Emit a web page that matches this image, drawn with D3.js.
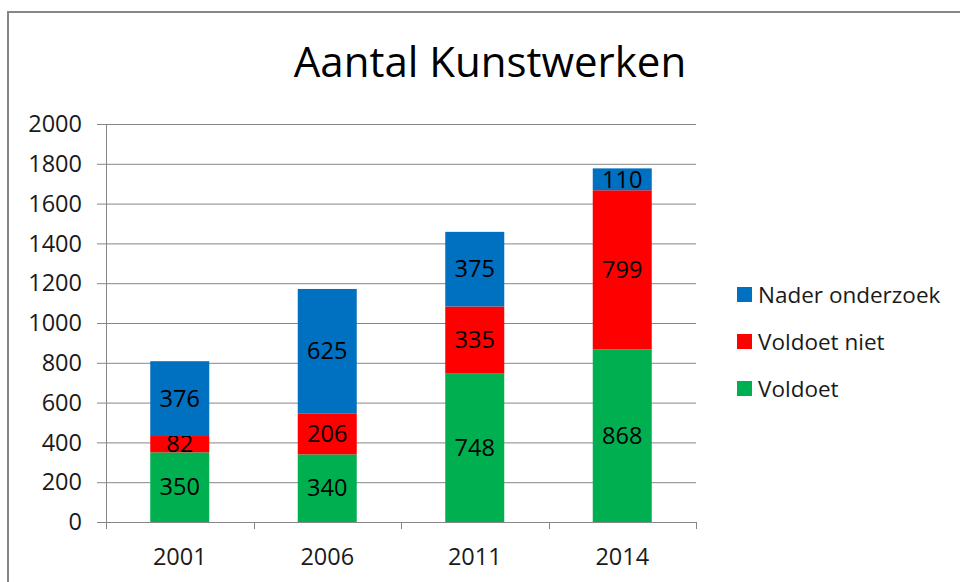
<!DOCTYPE html>
<html>
<head>
<meta charset="utf-8">
<script src="https://cdn.jsdelivr.net/npm/d3@7"></script>
<style>
  body { margin: 0; background: #fff; }
  text { font-family: "Open Sans", sans-serif; fill: #000; }
</style>
</head>
<body>
<svg class="chart"></svg>
<script>
// values
var years = ['2001', '2006', '2011', '2014'];
var voldoet = [350, 340, 748, 868];
var voldoetNiet = [82, 206, 335, 799];
var naderOnderzoek = [376, 625, 375, 110];
var seriesNames = ['Voldoet', 'Voldoet niet', 'Nader onderzoek'];
var seriesColors = ['#00B050', '#FF0000', '#0070C0'];
var yTicks = [0, 200, 400, 600, 800, 1000, 1200, 1400, 1600, 1800, 2000];

var width = 960, height = 582;

var svg = d3.select('.chart')
    .attr('width', width)
    .attr('height', height);

// chart border
svg.append('rect')
    .attr('x', 8).attr('y', 12)
    .attr('width', 970).attr('height', 600)
    .attr('fill', 'none')
    .attr('stroke', '#868686')
    .attr('stroke-width', 2);

svg.append('text')
    .attr('x', 490).attr('y', 77)
    .attr('text-anchor', 'middle')
    .style('font-size', '42px')
    .text('Aantal Kunstwerken');

var x = d3.scaleBand().domain(years).range([106, 696]).paddingInner(0.6).paddingOuter(0.3);
var y = d3.scaleLinear().domain([0, 2000]).range([522, 124]);

var rows = years.map(function(yr, i) {
    return {year: yr, 'Voldoet': voldoet[i], 'Voldoet niet': voldoetNiet[i], 'Nader onderzoek': naderOnderzoek[i]};
});
var stacked = d3.stack().keys(seriesNames)(rows);

// gridlines
svg.append('g').selectAll('line')
    .data(yTicks)
    .enter().append('line')
    .attr('x1', 97).attr('x2', 696)
    .attr('y1', function(d) { return y(d) + 0.5; })
    .attr('y2', function(d) { return y(d) + 0.5; })
    .attr('stroke', '#868686');

svg.append('g').selectAll('text')
    .data(yTicks)
    .enter().append('text')
    .attr('x', 82)
    .attr('y', function(d) { return y(d); })
    .attr('dy', '0.35em')
    .attr('text-anchor', 'end')
    .style('font-size', '23.5px')
    .style('fill', '#1a1a1a')
    .text(function(d) { return d; });

// y axis line
svg.append('line')
    .attr('x1', 106.5).attr('x2', 106.5)
    .attr('y1', 124).attr('y2', 522)
    .attr('stroke', '#868686');

// bars
var layers = svg.append('g').selectAll('g')
    .data(stacked)
    .enter().append('g')
    .attr('fill', function(d, i) { return seriesColors[i]; });

layers.selectAll('rect')
    .data(function(d) { return d; })
    .enter().append('rect')
    .attr('x', function(d) { return x(d.data.year); })
    .attr('width', x.bandwidth())
    .attr('y', function(d) { return y(d[1]); })
    .attr('height', function(d) { return y(d[0]) - y(d[1]); });

layers.selectAll('text')
    .data(function(d) { return d; })
    .enter().append('text')
    .attr('x', function(d) { return x(d.data.year) + x.bandwidth() / 2; })
    .attr('y', function(d) { return (y(d[0]) + y(d[1])) / 2; })
    .attr('dy', '0.35em')
    .attr('text-anchor', 'middle')
    .style('font-size', '23.5px')
    .text(function(d) { return d[1] - d[0]; });

// x axis
var xAxis = svg.append('g');
xAxis.append('line')
    .attr('x1', 106).attr('x2', 696)
    .attr('y1', 522.5).attr('y2', 522.5)
    .attr('stroke', '#868686');
var edges = years.map(function(yr) { return x(yr) - x.step() * x.paddingInner() / 2; });
edges.push(696);
xAxis.selectAll('line.tick')
    .data(edges)
    .enter().append('line')
    .attr('class', 'tick')
    .attr('x1', function(d) { return Math.round(d) + 0.5; })
    .attr('x2', function(d) { return Math.round(d) + 0.5; })
    .attr('y1', 522).attr('y2', 529)
    .attr('stroke', '#868686');
xAxis.selectAll('text')
    .data(years)
    .enter().append('text')
    .attr('x', function(d) { return x(d) + x.bandwidth() / 2; })
    .attr('y', 557)
    .attr('dy', '0.35em')
    .attr('text-anchor', 'middle')
    .style('font-size', '23.5px')
    .style('fill', '#1a1a1a')
    .text(function(d) { return d; });

// legend, top entry is the top series
var legendItems = seriesNames.slice().reverse();
var legendColors = seriesColors.slice().reverse();
var legend = svg.append('g').selectAll('g')
    .data(legendItems)
    .enter().append('g')
    .attr('transform', function(d, i) { return 'translate(737,' + (295 + i * 47) + ')'; });
legend.append('rect')
    .attr('x', 0).attr('y', -8)
    .attr('width', 15).attr('height', 15)
    .attr('fill', function(d, i) { return legendColors[i]; });
legend.append('text')
    .attr('x', 21).attr('y', 0)
    .attr('dy', '0.35em')
    .style('font-size', '22.5px')
    .style('fill', '#1a1a1a')
    .text(function(d) { return d; });
</script>
</body>
</html>
